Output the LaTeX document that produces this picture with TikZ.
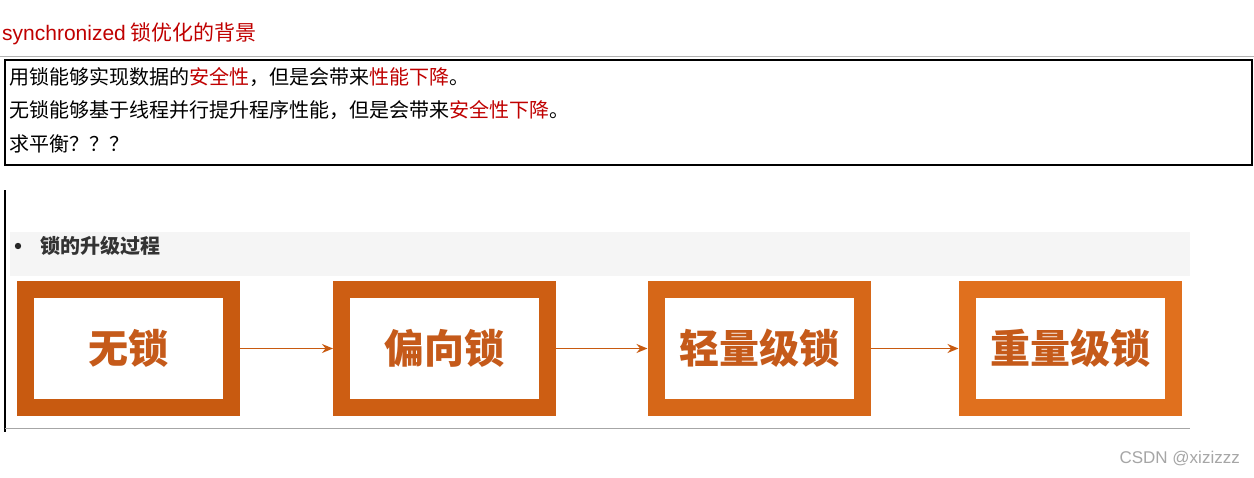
\documentclass[tikz,border=0pt]{standalone}
\usepackage{fontspec}
\setmainfont{Noto Sans CJK SC}
\newfontfamily\lat{Liberation Sans}
\usetikzlibrary{arrows.meta}
\definecolor{tred}{HTML}{C00000}
\definecolor{fr1}{HTML}{C85A10}
\definecolor{fr2}{HTML}{E0701E}
\definecolor{txo}{HTML}{C55A1A}
\tikzset{
 frame/.style={draw=#1,line width=17pt,fill=white,minimum width=206pt,minimum height=118pt,inner sep=0pt,
   font=\fontsize{40}{40}\selectfont\bfseries,text=txo},
 conn/.style={draw=fr1,line width=1.5pt,-{Stealth[length=11pt,width=9pt]}},
 ln/.style={font=\fontsize{20}{20}\selectfont,anchor=west}
}
\begin{document}
\begin{tikzpicture}[x=1pt,y=-1pt]
\useasboundingbox[fill=white] (0,0) rectangle (1254,477);
\node[anchor=west,inner sep=0,font=\fontsize{21}{21}\selectfont,text=tred] (title) at (2,34) {{\lat synchronized} 锁优化的背景};
\draw[gray!60,line width=1pt] (0,56) -- (1254,56);
\draw[black,line width=1.2pt] (5,60) rectangle (1252,165);
\node[ln,inner sep=0] (l1) at (9,77) {用锁能够实现数据的\textcolor{tred}{安全性}，但是会带来\textcolor{tred}{性能下降}。};
\node[ln,inner sep=0] (l2) at (9,110) {无锁能够基于线程并行提升程序性能，但是会带来\textcolor{tred}{安全性下降}。};
\node[ln,inner sep=0] (l3) at (9,144) {求平衡？？？};
\draw[black,line width=1.2pt] (5,190) -- (5,432);
\draw[gray!70,line width=1pt] (5,428) -- (1190,428);
\fill[gray!8] (10,232) rectangle (1190,276);
\fill[black!85] (18,246) circle (3.2);
\node[anchor=west,inner sep=0,font=\fontsize{20}{20}\selectfont\bfseries,text=black!80] (sub) at (40,246) {锁的升级过程};
\node[frame=fr1] (a) at (128.5,348.5) {无锁};
\node[frame=fr1!80!fr2] (b) at (444.5,348.5) {偏向锁};
\node[frame=fr1!40!fr2] (c) at (759,348.5) {轻量级锁};
\node[frame=fr2] (d) at (1070,348.5) {重量级锁};
\draw[conn] (a.east) -- (b.west);
\draw[conn] (b.east) -- (c.west);
\draw[conn] (c.east) -- (d.west);
\node[anchor=east,inner sep=0,font=\fontsize{17}{17}\selectfont\lat,text=gray!70] (wm) at (1240,459) {CSDN @xizizzz};
\end{tikzpicture}
\end{document}
